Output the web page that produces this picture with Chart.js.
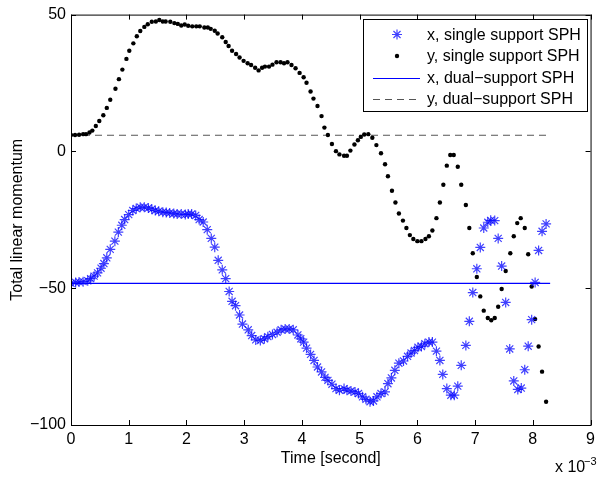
<!DOCTYPE html>
<html>
<head>
<meta charset="utf-8">
<title>Total linear momentum</title>
<script src="https://cdn.jsdelivr.net/npm/chart.js@4.4.1/dist/chart.umd.min.js"></script>
<style>
  body { margin: 0; background: #fff; }
  canvas { display: block; }
</style>
</head>
<body>
<canvas id="momentum" width="600" height="481"></canvas>
<script>
// time axis is in units of 1e-3 second

// x component, single support SPH (blue stars)
var timesX = [
  0.00, 0.08, 0.14, 0.21, 0.29, 0.34, 0.40, 0.46, 0.52, 0.57,
  0.62, 0.68, 0.76, 0.82, 0.88, 0.93, 1.00, 1.07, 1.13, 1.20,
  1.27, 1.34, 1.40, 1.46, 1.52, 1.59, 1.65, 1.71, 1.78, 1.84,
  1.91, 1.98, 2.03, 2.09, 2.16, 2.22, 2.29, 2.36, 2.43, 2.49,
  2.55, 2.62, 2.68, 2.74, 2.79, 2.85, 2.92, 2.97, 3.07, 3.13,
  3.20, 3.28, 3.35, 3.41, 3.49, 3.57, 3.64, 3.71, 3.78, 3.85,
  3.93, 3.98, 4.03, 4.08, 4.15, 4.21, 4.27, 4.34, 4.40, 4.45,
  4.52, 4.59, 4.65, 4.73, 4.78, 4.85, 4.92, 4.98, 5.05, 5.11,
  5.18, 5.24, 5.30, 5.37, 5.44, 5.49, 5.55, 5.61, 5.68, 5.76,
  5.83, 5.89, 5.95, 6.01, 6.07, 6.13, 6.20, 6.26, 6.33, 6.39,
  6.44, 6.51, 6.58, 6.64, 6.70, 6.76, 6.84, 6.90, 6.96, 7.03,
  7.09, 7.15, 7.22, 7.27, 7.34, 7.40, 7.46, 7.53, 7.60, 7.67,
  7.74, 7.80, 7.86, 7.92, 7.98, 8.04, 8.10, 8.16, 8.23
];
var momentumX = [
  -48.2, -47.9, -47.7, -47.6, -47.3, -46.5, -45.6, -44.4, -42.7, -41.0,
  -38.9, -35.8, -32.8, -29.5, -27.0, -24.9, -23.1, -21.6, -20.9, -20.4,
  -20.4, -20.7, -21.1, -21.6, -21.9, -22.2, -22.3, -22.5, -22.7, -22.9,
  -22.9, -23.1, -22.9, -22.9, -23.4, -24.9, -25.8, -28.6, -31.8, -35.0,
  -39.8, -43.3, -46.5, -51.2, -54.8, -56.4, -59.8, -63.1, -65.2, -67.3,
  -68.9, -69.1, -68.5, -67.7, -66.9, -66.1, -65.2, -64.9, -64.9, -65.2,
  -67.1, -68.5, -69.7, -71.9, -74.2, -76.4, -78.8, -80.6, -82.6, -83.7,
  -85.1, -86.7, -87.3, -86.7, -87.3, -87.6, -87.9, -88.5, -89.7, -90.6,
  -91.5, -91.2, -89.7, -88.5, -87.9, -84.9, -82.8, -80.0, -77.4, -76.6,
  -74.9, -73.7, -72.8, -71.6, -71.3, -70.3, -69.7, -69.7, -73.0, -76.4,
  -81.5, -86.7, -89.1, -89.1, -85.8, -78.2, -70.9, -62.1, -51.6, -42.9,
  -35.1, -28.0, -25.9, -25.2, -25.3, -31.8, -41.9, -55.2, -72.2, -83.9,
  -87.0, -86.5, -79.8, -71.2, -61.5, -47.9, -36.2, -29.2, -26.5
];

// y component, single support SPH (black dots)
var timesY = [
  0.00, 0.07, 0.14, 0.21, 0.26, 0.32, 0.37, 0.43, 0.49, 0.56,
  0.62, 0.68, 0.77, 0.83, 0.89, 0.96, 1.01, 1.08, 1.14, 1.20,
  1.27, 1.33, 1.40, 1.47, 1.53, 1.59, 1.64, 1.72, 1.79, 1.85,
  1.91, 1.97, 2.03, 2.10, 2.17, 2.23, 2.31, 2.37, 2.42, 2.49,
  2.54, 2.62, 2.68, 2.73, 2.79, 2.86, 2.92, 2.99, 3.06, 3.12,
  3.19, 3.25, 3.31, 3.36, 3.43, 3.49, 3.56, 3.63, 3.69, 3.75,
  3.82, 3.89, 3.96, 4.03, 4.08, 4.15, 4.20, 4.27, 4.34, 4.39,
  4.45, 4.52, 4.59, 4.65, 4.73, 4.78, 4.84, 4.91, 4.97, 5.02,
  5.08, 5.15, 5.22, 5.29, 5.37, 5.44, 5.49, 5.56, 5.62, 5.68,
  5.75, 5.81, 5.87, 5.93, 6.00, 6.07, 6.14, 6.20, 6.26, 6.33,
  6.39, 6.45, 6.51, 6.57, 6.63, 6.70, 6.76, 6.84, 6.90, 6.96,
  7.03, 7.09, 7.15, 7.22, 7.28, 7.34, 7.40, 7.46, 7.53, 7.61,
  7.67, 7.73, 7.79, 7.86, 7.92, 7.98, 8.04, 8.10, 8.16, 8.23
];
var momentumY = [
  6.0, 6.0, 6.1, 6.3, 6.3, 6.9, 7.6, 9.3, 11.1, 13.2,
  15.9, 18.9, 22.9, 26.4, 29.9, 33.8, 36.8, 39.5, 42.1, 44.0,
  45.5, 46.5, 47.4, 47.5, 48.0, 47.5, 47.5, 47.4, 46.9, 46.6,
  46.0, 46.4, 45.9, 45.7, 45.7, 45.7, 45.3, 45.3, 44.8, 44.1,
  43.1, 41.7, 40.0, 38.5, 36.8, 35.6, 34.3, 33.1, 32.2, 31.6,
  30.6, 29.6, 30.6, 31.0, 31.0, 31.7, 32.6, 32.6, 32.2, 32.6,
  31.6, 30.4, 28.7, 27.1, 25.1, 21.9, 19.3, 16.6, 12.9, 8.7,
  6.0, 2.7, 0.1, -1.1, -1.6, -1.6, 0.3, 2.5, 4.1, 5.3,
  6.2, 6.3, 5.0, 2.3, -0.7, -4.7, -9.1, -14.4, -18.7, -22.7,
  -25.3, -28.0, -30.6, -32.0, -32.8, -32.8, -32.0, -31.0, -28.9, -24.4,
  -18.7, -12.2, -5.2, -1.3, -1.3, -5.6, -12.2, -19.6, -28.0, -37.2,
  -45.9, -53.0, -58.2, -60.9, -61.7, -60.9, -56.8, -50.3, -43.7, -37.2,
  -31.0, -26.2, -24.4, -28.0, -37.6, -49.4, -61.3, -71.3, -80.5, -91.5
];

// dual-support SPH: constant values
var dualTimes = [0, 8.3];
var dualX = [-48.2, -48.2];
var dualY = [5.9, 5.9];

var seriesNames = [
  'x, single support SPH',
  'y, single support SPH',
  'x, dual\u2212support SPH',
  'y, dual\u2212support SPH'
];

var fontFamily = '"Liberation Sans", Arial, Helvetica, sans-serif';
var tickFont = { family: fontFamily, size: 16 };

function pairs(times, values) {
  return times.map(function (t, i) { return { x: t, y: values[i] }; });
}

function minusSign(value) {
  return String(value).replace('-', '\u2212');
}

// MATLAB style box, inward ticks, exponent label and legend
var matlabBox = {
  id: 'matlabBox',
  afterDraw: function (chart) {
    var ctx = chart.ctx;
    var a = chart.chartArea;
    var xs = chart.scales.x;
    var ys = chart.scales.y;
    var tick = 5;

    ctx.save();
    ctx.strokeStyle = '#000';
    ctx.lineWidth = 1;
    ctx.strokeRect(a.left + 0.5, a.top + 0.5, a.right - a.left, a.bottom - a.top);

    ctx.beginPath();
    xs.ticks.forEach(function (t) {
      var px = Math.round(xs.getPixelForValue(t.value)) + 0.5;
      ctx.moveTo(px, a.bottom);
      ctx.lineTo(px, a.bottom - tick);
      ctx.moveTo(px, a.top);
      ctx.lineTo(px, a.top + tick);
    });
    ys.ticks.forEach(function (t) {
      var py = Math.round(ys.getPixelForValue(t.value)) + 0.5;
      ctx.moveTo(a.left, py);
      ctx.lineTo(a.left + tick, py);
      ctx.moveTo(a.right, py);
      ctx.lineTo(a.right - tick, py);
    });
    ctx.stroke();

    // x 10^-3
    ctx.fillStyle = '#000';
    ctx.textBaseline = 'alphabetic';
    ctx.textAlign = 'left';
    ctx.font = '16px ' + fontFamily;
    ctx.fillText('x 10', 555, 472);
    ctx.font = '11px ' + fontFamily;
    ctx.fillText('\u22123', 584, 465);

    // legend
    var lx = 363, ly = 19, lw = 224, lh = 92;
    ctx.fillStyle = '#fff';
    ctx.fillRect(lx, ly, lw, lh);
    ctx.strokeStyle = '#000';
    ctx.strokeRect(lx + 0.5, ly + 0.5, lw, lh);

    var sets = chart.data.datasets;
    for (var i = 0; i < sets.length; i++) {
      var ds = sets[i];
      var rowY = 34.5 + i * 21.5;
      ctx.save();
      if (ds.showLine) {
        ctx.strokeStyle = ds.borderColor;
        ctx.lineWidth = ds.borderWidth;
        ctx.setLineDash(ds.borderDash || []);
        ctx.beginPath();
        ctx.moveTo(373, Math.round(rowY) + 0.5);
        ctx.lineTo(420, Math.round(rowY) + 0.5);
        ctx.stroke();
      } else {
        ctx.strokeStyle = ds.borderColor;
        ctx.fillStyle = ds.backgroundColor;
        ctx.lineWidth = ds.borderWidth;
        Chart.helpers.drawPoint(ctx, {
          pointStyle: ds.pointStyle,
          radius: ds.pointRadius,
          rotation: 0,
          borderWidth: ds.borderWidth
        }, 397, rowY);
      }
      ctx.restore();
      ctx.fillStyle = '#000';
      ctx.font = '16px ' + fontFamily;
      ctx.textBaseline = 'middle';
      ctx.fillText(seriesNames[i], 427, rowY + 1);
    }
    ctx.restore();
  }
};

var ctx = document.getElementById('momentum');

new Chart(ctx, {
  type: 'scatter',
  plugins: [matlabBox],
  data: {
    datasets: [{
      label: seriesNames[0],
      data: pairs(timesX, momentumX),
      pointStyle: 'star',
      pointRadius: 5,
      borderWidth: 1.2,
      borderColor: 'rgba(0, 0, 255, 0.75)',
      backgroundColor: 'rgba(0, 0, 255, 0.75)',
      showLine: false
    }, {
      label: seriesNames[1],
      data: pairs(timesY, momentumY),
      pointStyle: 'circle',
      pointRadius: 2.2,
      borderWidth: 0,
      borderColor: '#000',
      backgroundColor: '#000',
      showLine: false
    }, {
      label: seriesNames[2],
      data: pairs(dualTimes, dualX),
      showLine: true,
      pointRadius: 0,
      borderWidth: 1.2,
      borderColor: '#0000ff'
    }, {
      label: seriesNames[3],
      data: pairs(dualTimes, dualY),
      showLine: true,
      pointRadius: 0,
      borderWidth: 1,
      borderDash: [7, 5],
      borderColor: '#555'
    }]
  },
  options: {
    responsive: false,
    animation: false,
    layout: { padding: { top: 12, right: 5, left: 0, bottom: 0 } },
    plugins: {
      legend: { display: false },
      tooltip: { enabled: false }
    },
    scales: {
      x: {
        type: 'linear',
        min: 0,
        max: 9,
        ticks: { stepSize: 1, color: '#000', font: tickFont, padding: 5, maxRotation: 0 },
        grid: { display: false, drawTicks: false },
        border: { display: false },
        title: {
          display: true,
          text: 'Time [second]',
          color: '#000',
          font: tickFont,
          padding: { top: 0, bottom: 13 }
        },
        afterFit: function (scale) { scale.height = 56; }
      },
      y: {
        type: 'linear',
        min: -100,
        max: 50,
        ticks: { stepSize: 50, color: '#000', font: tickFont, padding: 5, callback: minusSign },
        grid: { display: false, drawTicks: false },
        border: { display: false },
        title: {
          display: true,
          text: 'Total linear momentum',
          color: '#000',
          font: tickFont,
          padding: { top: 8, bottom: 0 }
        },
        afterFit: function (scale) { scale.width = 71; }
      }
    }
  }
});
</script>
</body>
</html>
